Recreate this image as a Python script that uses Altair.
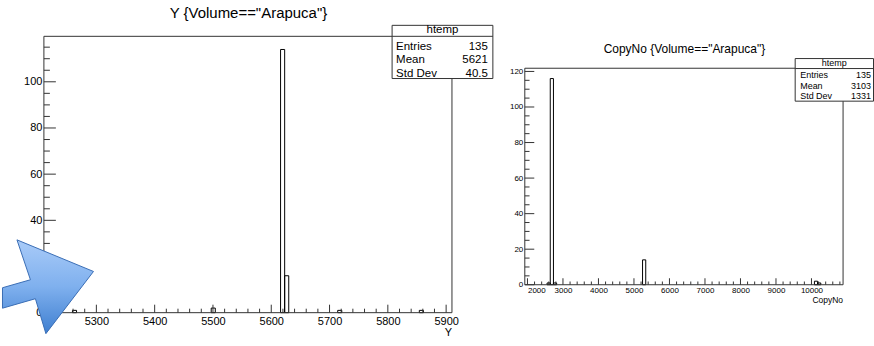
import altair as alt
import pandas as pd

# ---------------- data ----------------
# Left: Y {Volume=="Arapuca"} -- 100 bins over [5210, 5910]
y_xmin, y_xmax, y_nbins = 5210, 5910, 100
y_bins = [7, 41, 58, 59, 72, 92]          # non-empty bin indices
y_counts = [1, 2, 114, 16, 1, 1]
y_ymax = 119.7
y_title = 'Y {Volume=="Arapuca"}'
y_axis_title = "Y"
y_stat_names = ["Entries", "Mean", "Std Dev"]
y_stat_values = ["135", "5621", "40.5"]
y_xticks_major = [5300, 5400, 5500, 5600, 5700, 5800, 5900]
y_xticks_minor = [v for v in range(5220, 5901, 20) if v % 100 != 0]
y_yticks_major = [0, 20, 40, 60, 80, 100]
y_yticks_minor = [v for v in range(5, 116, 5) if v % 20 != 0]

# Right: CopyNo {Volume=="Arapuca"} -- 100 bins over [1925, 10890]
c_xmin, c_xmax, c_nbins = 1925, 10890, 100
c_bins = [7, 8, 9, 37, 91, 92]
c_counts = [1, 116, 1, 14, 2, 1]
c_ymax = 121.8
c_title = 'CopyNo {Volume=="Arapuca"}'
c_axis_title = "CopyNo"
c_stat_names = ["Entries", "Mean", "Std Dev"]
c_stat_values = ["135", "3103", "1331"]
c_xticks_major = [2000, 3000, 4000, 5000, 6000, 7000, 8000, 9000, 10000]
c_xticks_minor = [v for v in range(2200, 10801, 200) if v % 1000 != 0]
c_yticks_major = [0, 20, 40, 60, 80, 100, 120]
c_yticks_minor = [v for v in range(5, 121, 5) if v % 20 != 0]

box_title = "htemp"

FONT = "Liberation Sans"
LINE = "#333333"
one = pd.DataFrame({"k": [0]})


def hist_df(xmin, xmax, nbins, bins, counts):
    w = (xmax - xmin) / nbins
    return pd.DataFrame({
        "lo": [xmin + b * w for b in bins],
        "hi": [xmin + (b + 1) * w for b in bins],
        "count": counts,
        "base": [0] * len(bins),
    })


def txt(x, y, s, size, align="left", color="black"):
    return alt.Chart(one).mark_text(
        text=s, fontSize=size, align=align, baseline="alphabetic", font=FONT, color=color
    ).encode(x=alt.value(x), y=alt.value(y))


def panel(W, H, top, xmin, xmax, ymax, df, xmaj, xmin_t, ymaj, ymin_t,
          xl_size, yl_size, xl_pad, yl_pad, ymaj_len, xmaj_len, xflush):
    xs = alt.Scale(domain=[xmin, xmax], nice=False, zero=False)
    ys = alt.Scale(domain=[0, ymax], nice=False, range=[H, top])
    xa = alt.Axis(values=xmaj, format="d", ticks=False, domain=False, grid=False, title=None,
                  labelFont=FONT, labelFontSize=xl_size, labelPadding=xl_pad,
                  labelColor="black", labelFlush=xflush)
    ya = alt.Axis(values=ymaj, format="d", ticks=False, domain=False, grid=False, title=None,
                  labelFont=FONT, labelFontSize=yl_size, labelPadding=yl_pad,
                  labelColor="black", labelFlush=False)
    hist = alt.Chart(df).mark_rect(fillOpacity=0, stroke="black", strokeWidth=1).encode(
        x=alt.X("lo:Q", scale=xs, axis=xa, title=None),
        x2="hi:Q",
        y=alt.Y("count:Q", scale=ys, axis=ya, title=None),
        y2="base:Q",
    )
    layers = [hist]
    # inward tick marks, ROOT style
    for vals, ln in [(xmaj, xmaj_len), (xmin_t, xmaj_len / 2)]:
        layers.append(alt.Chart(pd.DataFrame({"v": vals})).mark_rule(color=LINE, strokeWidth=1).encode(
            x=alt.X("v:Q", scale=xs, axis=xa, title=None), y=alt.value(H), y2=alt.value(H - ln)))
    for vals, ln in [(ymaj, ymaj_len), (ymin_t, ymaj_len / 2)]:
        layers.append(alt.Chart(pd.DataFrame({"v": vals})).mark_rule(color=LINE, strokeWidth=1).encode(
            y=alt.Y("v:Q", scale=ys, axis=ya, title=None), x=alt.value(0), x2=alt.value(ln)))
    # frame
    layers.append(alt.Chart(one).mark_rect(fillOpacity=0, stroke=LINE, strokeWidth=1).encode(
        x=alt.value(0), x2=alt.value(W), y=alt.value(top), y2=alt.value(H)))
    return layers


def stats_box(x1, x2, y1, ysep, y2, size, hbase, rows_base, lx, rx, names, values):
    L = [alt.Chart(one).mark_rect(fill="white", stroke=LINE, strokeWidth=1).encode(
        x=alt.value(x1), x2=alt.value(x2), y=alt.value(y1), y2=alt.value(y2)),
        alt.Chart(one).mark_rule(color=LINE, strokeWidth=1).encode(
        x=alt.value(x1), x2=alt.value(x2), y=alt.value(ysep)),
        txt((x1 + x2) / 2, hbase, box_title, size, align="center")]
    for n, v, b in zip(names, values, rows_base):
        L.append(txt(lx, b, n, size))
        L.append(txt(rx, b, v, size, align="right"))
    return L


# ---------------- left panel ----------------
LW, LH = 409, 277
ydf = hist_df(y_xmin, y_xmax, y_nbins, y_bins, y_counts)
left_layers = panel(LW, LH, 0, y_xmin, y_xmax, y_ymax, ydf,
                    y_xticks_major, y_xticks_minor, y_yticks_major, y_yticks_minor,
                    11, 11, 3, 2, 12, 8, False)
left_layers += stats_box(349, 450, -11, 0, 42.3, 11.5, -3, [13.5, 27, 40.5], 353, 445,
                         y_stat_names, y_stat_values)
left_layers.append(txt(205, -18, y_title, 15, align="center"))
left_layers.append(txt(405.5, 300.5, y_axis_title, 11, align="center"))

# decorative blue arrow (overlay in the screenshot)
arrow_path = ("M -0.91 -0.04 L -0.35 -0.2 L -0.62 -1.0 L 0.914 -0.366 "
              "L -0.04 0.88 L -0.25 0.18 L -0.91 0.37 Z")
grad = alt.LinearGradient(gradient="linear", x1=0, y1=0, x2=0, y2=1, stops=[
    alt.GradientStop(color="#a9cbf8", offset=0),
    alt.GradientStop(color="#7fb0ee", offset=0.5),
    alt.GradientStop(color="#3f7fd0", offset=1)])
left_layers.append(alt.Chart(one).mark_point(
    shape=arrow_path, size=10000, filled=True, fill=grad, fillOpacity=1,
    stroke="#3a6db5", strokeWidth=1, opacity=1).encode(x=alt.value(4), y=alt.value(254)))

# invisible anchor fixing the 874x346 canvas
left_layers.append(alt.Chart(one).mark_rect(opacity=0).encode(
    x=alt.value(-42), x2=alt.value(832), y=alt.value(-36), y2=alt.value(310)))

left = alt.layer(*left_layers).properties(width=LW, height=LH)

# ---------------- right panel ----------------
RW, RH, RTOP = 319, 249, 32
cdf = hist_df(c_xmin, c_xmax, c_nbins, c_bins, c_counts)
right_layers = panel(RW, RH, RTOP, c_xmin, c_xmax, c_ymax, cdf,
                     c_xticks_major, c_xticks_minor, c_yticks_major, c_yticks_minor,
                     8, 8, 2, 2, 9.5, 6.5, 5)
right_layers += stats_box(271, 349.5, 22.3, 32.3, 65, 9, 30, [42, 52.5, 63], 276, 347,
                          c_stat_names, c_stat_values)
right_layers.append(txt(160, 17, c_title, 12, align="center"))
right_layers.append(txt(319, 267, c_axis_title, 8.5, align="right"))

right = alt.layer(*right_layers).properties(width=RW, height=RH)

chart = alt.hconcat(left, right, spacing=73, bounds="flush").properties(
    padding=0, background="white"
).configure_view(stroke="transparent", strokeWidth=0)

chart.save("out.html", embed_options={"renderer": "svg", "actions": False})
